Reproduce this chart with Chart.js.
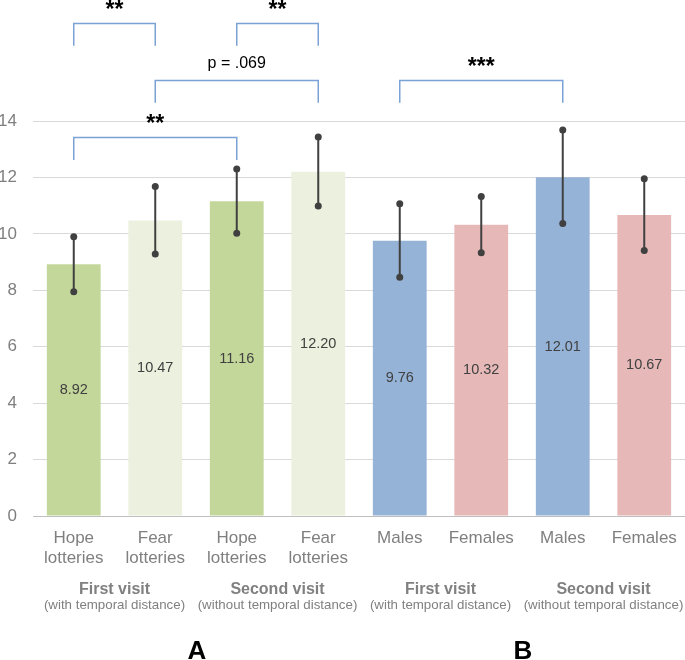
<!DOCTYPE html>
<html>
<head>
<meta charset="utf-8">
<script src="https://cdn.jsdelivr.net/npm/chart.js@4.4.1/dist/chart.umd.min.js"></script>
<style>
  body { margin: 0; background: #fff; }
  #wrap { width: 685px; height: 660px; }
</style>
</head>
<body>
<div id="wrap"><canvas id="chart" width="685" height="660"></canvas></div>
<script>
// Data
var categories = [["Hope", "lotteries"], ["Fear", "lotteries"], ["Hope", "lotteries"], ["Fear", "lotteries"],
                  "Males", "Females", "Males", "Females"];
var means   = [8.92, 10.47, 11.16, 12.20, 9.76, 10.32, 12.01, 10.67];
var errLow  = [7.95, 9.29, 10.02, 10.99, 8.46, 9.33, 10.37, 9.41];
var errHigh = [9.90, 11.68, 12.30, 13.43, 11.07, 11.32, 13.68, 11.95];
var yTicks  = [0, 2, 4, 6, 8, 10, 12, 14];

var groupTitles = ["First visit", "Second visit", "First visit", "Second visit"];
var groupNotes  = ["(with temporal distance)", "(without temporal distance)",
                   "(with temporal distance)", "(without temporal distance)"];
var panelLetters = ["A", "B"];

// Significance brackets (bar indexes, heights in y units)
var brackets = [
    { from: 0, to: 1, y: 17.48, leg: 16.67, text: "**" },
    { from: 2, to: 3, y: 17.48, leg: 16.67, text: "**" },
    { from: 1, to: 3, y: 15.46, leg: 14.65, text: "p = .069" },
    { from: 0, to: 2, y: 13.44, leg: 12.62, text: "**" },
    { from: 4, to: 6, y: 15.46, leg: 14.65, text: "***" }
];

var barColors = ['#c4d79b', '#ebf1de', '#c4d79b', '#ebf1de', '#95b3d7', '#e6b9b8', '#95b3d7', '#e6b9b8'];
var FONT = '"Liberation Sans", Arial, sans-serif';

Chart.defaults.font.family = FONT;

// Error bars + value labels inside the bars
var barExtras = {
    id: 'barExtras',
    afterDatasetsDraw: function (chart) {
        var ctx = chart.ctx;
        var ys = chart.scales.y;
        var meta = chart.getDatasetMeta(0);
        ctx.save();
        meta.data.forEach(function (bar, i) {
            // label at half height of the bar
            ctx.fillStyle = '#404040';
            ctx.font = '14.5px ' + FONT;
            ctx.textAlign = 'center';
            ctx.textBaseline = 'middle';
            ctx.fillText(means[i].toFixed(2), bar.x, ys.getPixelForValue(means[i] / 2));

            var yLo = ys.getPixelForValue(errLow[i]);
            var yHi = ys.getPixelForValue(errHigh[i]);
            ctx.strokeStyle = '#404040';
            ctx.lineWidth = 2;
            ctx.beginPath();
            ctx.moveTo(bar.x, yLo);
            ctx.lineTo(bar.x, yHi);
            ctx.stroke();
            ctx.fillStyle = '#404040';
            [yLo, yHi].forEach(function (py) {
                ctx.beginPath();
                ctx.arc(bar.x, py, 3.5, 0, Math.PI * 2);
                ctx.fill();
            });
        });
        ctx.restore();
    }
};

// Brackets on top, group titles and panel letters below
var annotations = {
    id: 'annotations',
    afterDraw: function (chart) {
        var ctx = chart.ctx;
        var xs = chart.scales.x;
        var ys = chart.scales.y;
        var bottom = chart.chartArea.bottom;
        ctx.save();

        brackets.forEach(function (b) {
            var x1 = xs.getPixelForValue(b.from);
            var x2 = xs.getPixelForValue(b.to);
            var yb = Math.round(ys.getPixelForValue(b.y)) + 0.5;
            var yl = ys.getPixelForValue(b.leg);
            ctx.strokeStyle = '#7ba2d6';
            ctx.lineWidth = 1.5;
            ctx.beginPath();
            ctx.moveTo(x1, yl);
            ctx.lineTo(x1, yb);
            ctx.lineTo(x2, yb);
            ctx.lineTo(x2, yl);
            ctx.stroke();

            ctx.fillStyle = '#000';
            ctx.textAlign = 'center';
            ctx.textBaseline = 'alphabetic';
            var xm = (x1 + x2) / 2;
            if (b.text.charAt(0) === '*') {
                ctx.font = 'bold 23px ' + FONT;
                ctx.fillText(b.text, xm, yb - 7);
            } else {
                ctx.font = '16px ' + FONT;
                ctx.fillText(b.text, xm, yb - 13);
            }
        });

        // group titles under each pair of bars
        groupTitles.forEach(function (t, g) {
            var xm = (xs.getPixelForValue(2 * g) + xs.getPixelForValue(2 * g + 1)) / 2;
            ctx.fillStyle = '#808080';
            ctx.textAlign = 'center';
            ctx.textBaseline = 'alphabetic';
            ctx.font = 'bold 16px ' + FONT;
            ctx.fillText(t, xm, bottom + 78);
            ctx.font = '13.3px ' + FONT;
            ctx.fillText(groupNotes[g], xm, bottom + 93);
        });

        panelLetters.forEach(function (l, p) {
            var xm = (xs.getPixelForValue(4 * p + 1) + xs.getPixelForValue(4 * p + 2)) / 2;
            ctx.fillStyle = '#000';
            ctx.font = 'bold 26px ' + FONT;
            ctx.textAlign = 'center';
            ctx.fillText(l, xm + 1, bottom + 143);
        });
        ctx.restore();
    }
};

new Chart(document.getElementById('chart'), {
    type: 'bar',
    data: {
        labels: categories,
        datasets: [{
            data: means,
            backgroundColor: barColors,
            barPercentage: 0.66,
            categoryPercentage: 1
        }]
    },
    options: {
        responsive: false,
        animation: false,
        layout: { padding: { top: 121, left: 0, right: 0, bottom: 0 } },
        plugins: {
            legend: { display: false },
            tooltip: { enabled: false }
        },
        scales: {
            x: {
                grid: { display: false, drawTicks: false },
                border: { color: '#bfbfbf', width: 1 },
                ticks: {
                    color: '#7f7f7f',
                    font: { size: 17, lineHeight: 1.15 },
                    padding: 13,
                    maxRotation: 0,
                    autoSkip: false
                },
                afterFit: function (scale) {
                    scale.height = 144;
                    scale.paddingLeft = 0;
                    scale.paddingRight = 0;
                }
            },
            y: {
                min: 0,
                max: 14,
                afterBuildTicks: function (scale) {
                    scale.ticks = yTicks.map(function (v) { return { value: v }; });
                },
                grid: { color: '#d9d9d9', drawTicks: false },
                border: { display: false },
                ticks: {
                    color: '#7f7f7f',
                    font: { size: 17 },
                    padding: 16
                },
                afterFit: function (scale) { scale.width = 33; }
            }
        }
    },
    plugins: [barExtras, annotations]
});
</script>
</body>
</html>
